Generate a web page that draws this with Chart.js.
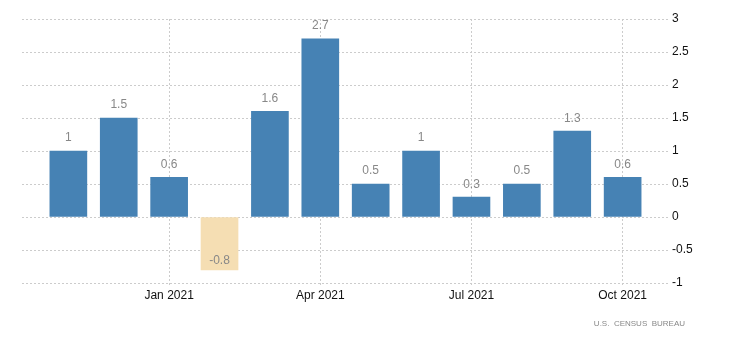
<!DOCTYPE html>
<html>
<head>
<meta charset="utf-8">
<script src="https://cdn.jsdelivr.net/npm/chart.js@4.4.0/dist/chart.umd.min.js"></script>
<style>
    html, body { margin: 0; padding: 0; background: #fff; }
    #wrap { width: 730px; height: 346px; }
</style>
</head>
<body>
<div id="wrap"><canvas id="myChart" width="730" height="346"></canvas></div>
<script>
// months Nov 2020 .. Oct 2021
const months = ['Nov 2020', 'Dec 2020', 'Jan 2021', 'Feb 2021', 'Mar 2021', 'Apr 2021',
    'May 2021', 'Jun 2021', 'Jul 2021', 'Aug 2021', 'Sep 2021', 'Oct 2021'];
const values = [1, 1.5, 0.6, -0.8, 1.6, 2.7, 0.5, 1, 0.3, 0.5, 1.3, 0.6];
const tickIndex = [2, 5, 8, 11];
const tickLabels = ['Jan 2021', 'Apr 2021', 'Jul 2021', 'Oct 2021'];
const yTicks = [-1, -0.5, 0, 0.5, 1, 1.5, 2, 2.5, 3];

const points = [];
for (i = 0; i < values.length; i++) {
    points.push({ x: i, y: values[i] });
}

// value labels above bars (inside bottom for negatives)
const valueLabels = {
    id: 'valueLabels',
    afterDatasetsDraw(chart) {
        const ctx = chart.ctx;
        const meta = chart.getDatasetMeta(0);
        ctx.save();
        ctx.font = '12px "Liberation Sans", Arial, sans-serif';
        ctx.fillStyle = '#888';
        ctx.textAlign = 'center';
        ctx.textBaseline = 'middle';
        meta.data.forEach((bar, idx) => {
            const v = values[idx];
            if (v >= 0) {
                ctx.fillText(String(v), bar.x, bar.y - 13);
            } else {
                ctx.fillText(String(v), bar.x, bar.y - 9);
            }
        });
        ctx.restore();
    }
};

const sourceNote = {
    id: 'sourceNote',
    afterDraw(chart) {
        const ctx = chart.ctx;
        ctx.save();
        ctx.font = '8px "Liberation Sans", Arial, sans-serif';
        ctx.fillStyle = '#888';
        ctx.textAlign = 'right';
        ctx.textBaseline = 'middle';
        ctx.fillText('U.S.  CENSUS  BUREAU', 685, 324);
        ctx.restore();
    }
};

const ctx = document.getElementById('myChart');
new Chart(ctx, {
    type: 'bar',
    data: {
        datasets: [{
            data: points,
            backgroundColor: values.map(v => v < 0 ? '#f5deb3' : '#4682b4'),
            barThickness: 37,
            borderWidth: 0
        }]
    },
    options: {
        responsive: false,
        animation: false,
        layout: { padding: { left: 22, top: 19, right: 0, bottom: 0 } },
        plugins: {
            legend: { display: false },
            tooltip: { enabled: false }
        },
        scales: {
            x: {
                type: 'linear',
                offset: false,
                min: -0.92,
                max: 11.94,
                afterBuildTicks: axis => {
                    axis.ticks = tickIndex.map(v => ({ value: v }));
                },
                afterFit: axis => { axis.height = 63; },
                ticks: {
                    autoSkip: false,
                    maxRotation: 0,
                    padding: 1,
                    color: '#111',
                    font: { family: '"Liberation Sans", Arial, sans-serif', size: 12 },
                    callback: v => tickLabels[tickIndex.indexOf(v)]
                },
                grid: { offset: false, color: '#ccc', tickLength: 4, tickBorderDash: [2, 2] },
                border: { display: false, dash: [2, 2] }
            },
            y: {
                position: 'right',
                min: -1,
                max: 3,
                afterBuildTicks: axis => {
                    axis.ticks = yTicks.map(v => ({ value: v }));
                },
                afterFit: axis => { axis.width = 60; },
                ticks: {
                    padding: 2,
                    color: '#111',
                    font: { family: '"Liberation Sans", Arial, sans-serif', size: 12 },
                    callback: v => String(v)
                },
                grid: { color: '#ccc', drawTicks: false },
                border: { display: false, dash: [2, 2] }
            }
        }
    },
    plugins: [valueLabels, sourceNote]
});
</script>
</body>
</html>
